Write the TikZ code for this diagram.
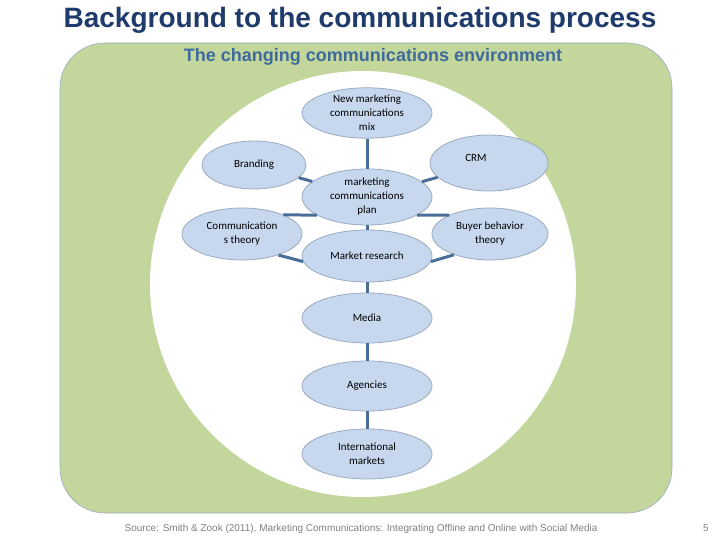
\documentclass[tikz,border=0pt]{standalone}
\usepackage{fontspec}
\setmainfont{Liberation Sans}
\newfontfamily\carl{Carlito}
\usetikzlibrary{shapes.geometric}
\definecolor{titleblue}{HTML}{1F3B6B}
\definecolor{subblue}{HTML}{3F6A9C}
\definecolor{envgreen}{HTML}{C3D69B}
\definecolor{ellfill}{HTML}{C6D7EE}
\definecolor{ellline}{HTML}{9AAABF}
\definecolor{conn}{HTML}{4A6E9A}
\begin{document}
\begin{tikzpicture}[x=1pt,y=-1pt,
  ell/.style={ellipse,draw=ellline,fill=ellfill,line width=0.8pt,inner sep=0pt,
    font=\carl\fontsize{11}{14}\selectfont,align=center,text=black},
  con/.style={draw=conn,line width=3pt}]
\useasboundingbox (0,0) rectangle (720,540);
\fill[white] (0,0) rectangle (720,540);
\node (title) at (360,20) {\bfseries\fontsize{28}{31}\selectfont\color{titleblue}Background to the communications process};
\fill[envgreen,draw=ellline,line width=0.6pt,rounded corners=45pt] (60,43) rectangle (672,513);
\node (sub) at (373,57) {\bfseries\fontsize{18}{21}\selectfont\color{subblue}The changing communications environment};
\fill[white] (363,284) ellipse [x radius=213pt,y radius=213pt];
\node[ell,minimum width=130pt,minimum height=50pt] (mix) at (367,113) {New marketing\\communications\\mix};
\node[ell,minimum width=130pt,minimum height=56pt] (plan) at (367,197) {marketing\\communications\\plan};
\node[ell,minimum width=104pt,minimum height=48pt] (brand) at (254,165) {Branding};
\node[ell,minimum width=118pt,minimum height=56pt] (crm) at (489,163) {};
\node (crmt) at (476,158) {\carl\fontsize{11}{14}\selectfont CRM};
\node[ell,minimum width=120pt,minimum height=52pt] (comm) at (242,234) {Communication\\s theory};
\node[ell,minimum width=116pt,minimum height=52pt] (buyer) at (490,234) {Buyer behavior\\theory};
\node[ell,minimum width=130pt,minimum height=52pt] (mr) at (367,256) {Market research};
\node[ell,minimum width=130pt,minimum height=50pt] (media) at (367,318) {Media};
\node[ell,minimum width=130pt,minimum height=50pt] (ag) at (367,386) {Agencies};
\node[ell,minimum width=130pt,minimum height=50pt] (intl) at (367,454) {International\\markets};
\draw[con] (mix) -- (plan);
\draw[con] (brand) -- (plan);
\draw[con] (crm) -- (plan);
\draw[con] (comm.25) -- (plan.200);
\draw[con] (buyer.155) -- (plan.340);
\draw[con] (plan) -- (mr);
\draw[con] (comm.330) -- (mr.185);
\draw[con] (buyer.210) -- (mr.355);
\draw[con] (mr) -- (media);
\draw[con] (media) -- (ag);
\draw[con] (ag) -- (intl);
\node (src) at (361,529) {\fontsize{10}{12}\selectfont\color{gray}Source: Smith \& Zook (2011), Marketing Communications: Integrating Offline and Online with Social Media};
\node (pg) at (706,528) {\fontsize{10}{12}\selectfont\color{gray}5};
\end{tikzpicture}
\end{document}
